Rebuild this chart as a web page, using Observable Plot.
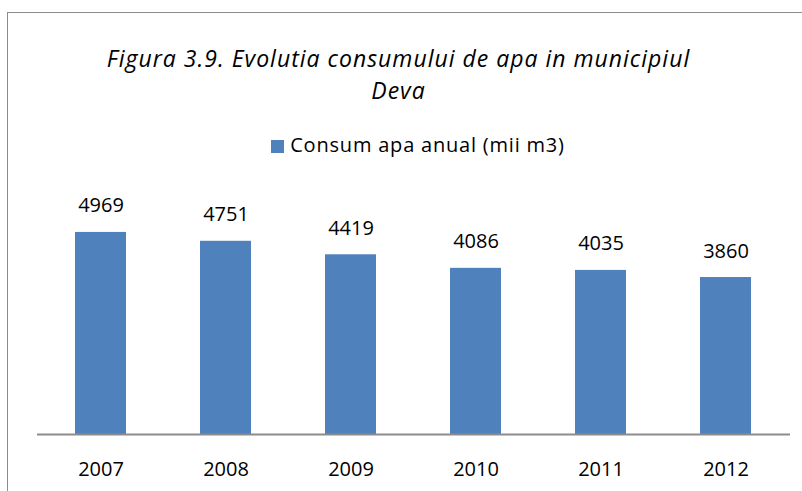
<!DOCTYPE html>
<html>
<head>
<meta charset="utf-8">
<script src="https://cdn.jsdelivr.net/npm/d3@7"></script>
<script src="https://cdn.jsdelivr.net/npm/@observablehq/plot@0.6"></script>
<style>
  html, body { margin: 0; padding: 0; background: #fff; }
  body { width: 802px; height: 491px; overflow: hidden; position: relative; font-family: "Open Sans", Lato, sans-serif; font-variant-ligatures: none; }
  #frame { position: absolute; left: 7px; top: 12px; width: 900px; height: 600px; border: 1.5px solid #8c8c8c; box-sizing: border-box; }
  .title { position: absolute; left: 0; width: 797px; text-align: center; font-style: italic; font-size: 23px; line-height: 23px; letter-spacing: 1px; color: #000; white-space: nowrap; }
  #t1 { top: 47px; }
  #t2 { top: 79px; }
  #legend { position: absolute; left: 0; width: 836px; top: 135px; text-align: center; font-size: 20px; line-height: 20px; letter-spacing: 0.8px; color: #000; white-space: nowrap; }
  #legend .sw { display: inline-block; width: 13px; height: 13px; background: #4f81bd; margin-right: 6px; vertical-align: -1px; }
  #chart { position: absolute; left: 0; top: 170px; }
</style>
</head>
<body>
<div id="frame"></div>
<div class="title" id="t1">Figura 3.9. Evolutia consumului de apa in municipiul</div>
<div class="title" id="t2">Deva</div>
<div id="legend"><span class="sw"></span>Consum apa anual (mii m3)</div>
<div id="chart"></div>
<script>
const years = ["2007", "2008", "2009", "2010", "2011", "2012"];
const consum = [4969, 4751, 4419, 4086, 4035, 3860];
const data = years.map((y, i) => ({year: y, value: consum[i]}));

const plot = Plot.plot({
  width: 802,
  height: 321,
  marginTop: 20,
  marginBottom: 57,
  marginLeft: 37,
  marginRight: 12,
  style: {fontFamily: "'Open Sans', Lato, sans-serif", background: "transparent", overflow: "visible"},
  x: {domain: years, paddingInner: 0.59, paddingOuter: 0.295, label: null},
  y: {domain: [0, 6000], axis: null},
  marks: [
    Plot.barY(data, {x: "year", y: "value", fill: "#4f81bd"}),
    Plot.ruleY([0], {stroke: "#8c8c8c", strokeWidth: 2}),
    Plot.text(data, {x: "year", y: "value", text: d => String(d.value), dy: -20, lineAnchor: "bottom", fontSize: 20, fill: "#000"}),
    Plot.axisX({tickSize: 0, tickPadding: 27, fontSize: 20, label: null})
  ]
});
const ax = plot.querySelector('[aria-label="x-axis tick label"]');
if (ax) { ax.setAttribute("font-size", "20"); ax.setAttribute("fill", "#000"); }
document.getElementById("chart").appendChild(plot);
</script>
</body>
</html>
